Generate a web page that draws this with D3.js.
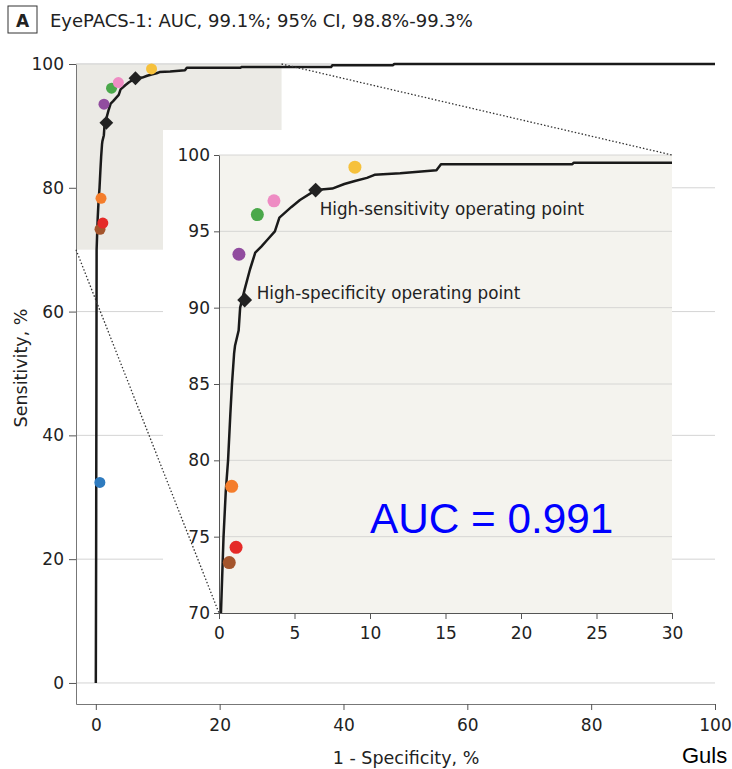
<!DOCTYPE html>
<html>
<head>
<meta charset="utf-8">
<script src="https://cdn.jsdelivr.net/npm/d3@7"></script>
<style>
  body { margin: 0; background: #fff; }
  svg { display: block; font-family: "DejaVu Sans", sans-serif; }
</style>
</head>
<body>
<div id="chart"></div>
<script>
// ROC curve (1 - specificity, sensitivity), both in %
const rocFpr = [0, 0.05, 0.1, 0.13, 0.3, 0.45, 0.6, 0.75, 0.86, 1.0, 1.06, 1.3, 1.4, 1.7, 2.05, 2.4, 2.8, 3.16, 3.7, 4.0, 4.8, 5.36, 6.4, 7.5, 8.3, 9.0, 9.8, 10.3, 12.0, 14.4, 14.7, 23.4, 23.5, 38.0, 38.2, 48.0, 48.2, 100];
const rocTpr = [0, 20, 49, 70, 75, 78, 80, 83, 85, 87, 87.5, 88.5, 90, 91.2, 92.5, 93.6, 94.0, 94.4, 95.0, 95.9, 96.6, 97.05, 97.7, 97.8, 98.1, 98.3, 98.5, 98.7, 98.8, 99.0, 99.4, 99.4, 99.5, 99.5, 99.8, 99.8, 100, 100];

// operating points (diamonds)
const opFpr = [1.7, 6.4];
const opTpr = [90.5, 97.7];
const opLabels = ["High-specificity operating point", "High-sensitivity operating point"];

// individual graders (coloured dots)
const graderFpr = [0.65, 0.84, 0.68, 1.13, 1.32, 2.54, 3.64, 9.0];
const graderTpr = [32.4, 78.3, 73.3, 74.3, 93.5, 96.1, 97.0, 99.2];
const graderColors = ["#2f7bbf", "#f47d2b", "#a4552c", "#e52a28", "#914c9f", "#4aa84a", "#ee8cc3", "#f6c13c"];

const mainTicks = [0, 20, 40, 60, 80, 100];
const insetXTicks = [0, 5, 10, 15, 20, 25, 30];
const insetYTicks = [70, 75, 80, 85, 90, 95, 100];

const titleText = "EyePACS-1: AUC, 99.1%; 95% CI, 98.8%-99.3%";
const aucText = "AUC = 0.991";

const W = 732, H = 769;
const roc = rocFpr.map((f, i) => ({ x: f, y: rocTpr[i] }));
const ops = opFpr.map((f, i) => ({ x: f, y: opTpr[i], label: opLabels[i] }));
const graders = graderFpr.map((f, i) => ({ x: f, y: graderTpr[i], c: graderColors[i] }));

const svg = d3.select("#chart").append("svg")
    .attr("width", W)
    .attr("height", H);

// main scales
const x = d3.scaleLinear().domain([-3.2, 100]).range([76, 715]);
const y = d3.scaleLinear().domain([-3.4, 100]).range([704, 64]);

// inset scales
const xi = d3.scaleLinear().domain([0, 30]).range([219, 672]);
const yi = d3.scaleLinear().domain([70, 100]).range([613, 155]);

// gridlines
svg.append("g").selectAll("line")
    .data(mainTicks)
    .join("line")
    .attr("x1", x(-3.2)).attr("x2", x(100))
    .attr("y1", d => y(d)).attr("y2", d => y(d))
    .attr("stroke", "#d4d4d4");

// zoomed region
svg.append("rect")
    .attr("x", x(-3.2)).attr("y", y(100))
    .attr("width", x(30) - x(-3.2)).attr("height", y(70) - y(100))
    .attr("fill", "#ebeae5");
svg.append("line")
    .attr("x1", x(-3.2)).attr("x2", x(100))
    .attr("y1", y(100)).attr("y2", y(100))
    .attr("stroke", "#d4d4d4");

const line = d3.line().x(d => x(d.x)).y(d => y(d.y));
svg.append("path")
    .datum(roc)
    .attr("fill", "none")
    .attr("stroke", "#1a1a1a")
    .attr("stroke-width", 2.5)
    .attr("stroke-linejoin", "round")
    .attr("d", line);

svg.append("g").selectAll("circle")
    .data(graders)
    .join("circle")
    .attr("cx", d => x(d.x)).attr("cy", d => y(d.y))
    .attr("r", 5.5)
    .attr("fill", d => d.c);

const diamond = d3.symbol().type(d3.symbolSquare).size(95);
svg.append("g").selectAll("path")
    .data(ops)
    .join("path")
    .attr("d", diamond)
    .attr("transform", d => `translate(${x(d.x)},${y(d.y)}) rotate(45)`)
    .attr("fill", "#222");

// main axes
const xAxis = svg.append("g")
    .attr("transform", "translate(0,704)")
    .call(d3.axisBottom(x).tickValues(mainTicks).tickSize(6).tickSizeOuter(0).tickPadding(9));
const yAxis = svg.append("g")
    .attr("transform", "translate(76,0)")
    .call(d3.axisLeft(y).tickValues(mainTicks).tickSize(7).tickSizeOuter(0).tickPadding(5));
[xAxis, yAxis].forEach(g => {
    g.select(".domain").attr("stroke", "#777");
    g.selectAll(".tick line").attr("stroke", "#555");
    g.selectAll("text").attr("font-size", 17).attr("fill", "#222")
        .attr("font-family", "DejaVu Sans, sans-serif");
});

// inset panel
svg.append("rect")
    .attr("x", 163).attr("y", 130)
    .attr("width", xi(30) - 163).attr("height", 520)
    .attr("fill", "#fff");
svg.append("rect")
    .attr("x", xi(0)).attr("y", yi(100))
    .attr("width", xi(30) - xi(0)).attr("height", yi(70) - yi(100))
    .attr("fill", "#f4f3ee");
svg.append("g").selectAll("line")
    .data(insetYTicks.slice(1))
    .join("line")
    .attr("x1", xi(0)).attr("x2", xi(30))
    .attr("y1", d => yi(d)).attr("y2", d => yi(d))
    .attr("stroke", "#d6d6d4");

svg.append("clipPath").attr("id", "insetClip")
    .append("rect")
    .attr("x", xi(0)).attr("y", yi(100) - 2)
    .attr("width", xi(30) - xi(0)).attr("height", yi(70) - yi(100) + 2);

const lineIn = d3.line().x(d => xi(d.x)).y(d => yi(d.y));
svg.append("path")
    .datum(roc)
    .attr("clip-path", "url(#insetClip)")
    .attr("fill", "none")
    .attr("stroke", "#1a1a1a")
    .attr("stroke-width", 2.5)
    .attr("stroke-linejoin", "round")
    .attr("d", lineIn);

svg.append("g").selectAll("circle")
    .data(graders.filter(d => d.y >= 70))
    .join("circle")
    .attr("cx", d => xi(d.x)).attr("cy", d => yi(d.y))
    .attr("r", 6.5)
    .attr("fill", d => d.c);

const diamondIn = d3.symbol().type(d3.symbolSquare).size(110);
svg.append("g").selectAll("path")
    .data(ops)
    .join("path")
    .attr("d", diamondIn)
    .attr("transform", d => `translate(${xi(d.x)},${yi(d.y)}) rotate(45)`)
    .attr("fill", "#222");

// operating point labels
svg.append("g").selectAll("text")
    .data(ops)
    .join("text")
    .attr("x", (d, i) => xi(d.x) + (i === 0 ? 12 : 4))
    .attr("y", (d, i) => yi(d.y) + (i === 0 ? -1 : 25))
    .attr("font-size", 16.8)
    .attr("fill", "#222")
    .text(d => d.label);

const xiAxis = svg.append("g")
    .attr("transform", `translate(0,${yi(70)})`)
    .call(d3.axisBottom(xi).tickValues(insetXTicks).tickSize(6).tickSizeOuter(0).tickPadding(8));
const yiAxis = svg.append("g")
    .attr("transform", `translate(${xi(0)},0)`)
    .call(d3.axisLeft(yi).tickValues(insetYTicks).tickSize(5).tickSizeOuter(0).tickPadding(4));
[xiAxis, yiAxis].forEach(g => {
    g.select(".domain").attr("stroke", "#555");
    g.selectAll(".tick line").attr("stroke", "#555");
    g.selectAll("text").attr("font-size", 17).attr("fill", "#222")
        .attr("font-family", "DejaVu Sans, sans-serif");
});

svg.append("text")
    .attr("x", 370).attr("y", 533)
    .attr("font-family", "Liberation Sans, Arial, sans-serif")
    .attr("font-size", 42.3)
    .attr("fill", "#0000ff")
    .text(aucText);

// dotted zoom connectors
const connectors = [
    [[x(30), y(100)], [xi(30), yi(100)]],
    [[x(-3.2), y(70)], [xi(0), yi(70)]]
];
svg.append("g").selectAll("line")
    .data(connectors)
    .join("line")
    .attr("x1", d => d[0][0]).attr("y1", d => d[0][1])
    .attr("x2", d => d[1][0]).attr("y2", d => d[1][1])
    .attr("stroke", "#333")
    .attr("stroke-width", 1.3)
    .attr("stroke-dasharray", "1.5,2");

// axis titles
svg.append("text")
    .attr("transform", "translate(27,368) rotate(-90)")
    .attr("text-anchor", "middle")
    .attr("font-size", 17.5)
    .attr("fill", "#222")
    .text("Sensitivity, %");
svg.append("text")
    .attr("x", 406).attr("y", 764)
    .attr("text-anchor", "middle")
    .attr("font-size", 17.5)
    .attr("fill", "#222")
    .text("1 - Specificity, %");

// panel title
svg.append("rect")
    .attr("x", 8).attr("y", 6)
    .attr("width", 29).attr("height", 27)
    .attr("fill", "none")
    .attr("stroke", "#333");
svg.append("text")
    .attr("x", 22.5).attr("y", 27)
    .attr("text-anchor", "middle")
    .attr("font-size", 17)
    .attr("font-weight", "bold")
    .attr("fill", "#222")
    .text("A");
svg.append("text")
    .attr("x", 50).attr("y", 27)
    .attr("font-size", 18)
    .attr("fill", "#222")
    .text(titleText);

svg.append("text")
    .attr("x", 682).attr("y", 763)
    .attr("font-family", "Liberation Sans, Arial, sans-serif")
    .attr("font-size", 22)
    .attr("fill", "#000")
    .text("Guls");
</script>
</body>
</html>
